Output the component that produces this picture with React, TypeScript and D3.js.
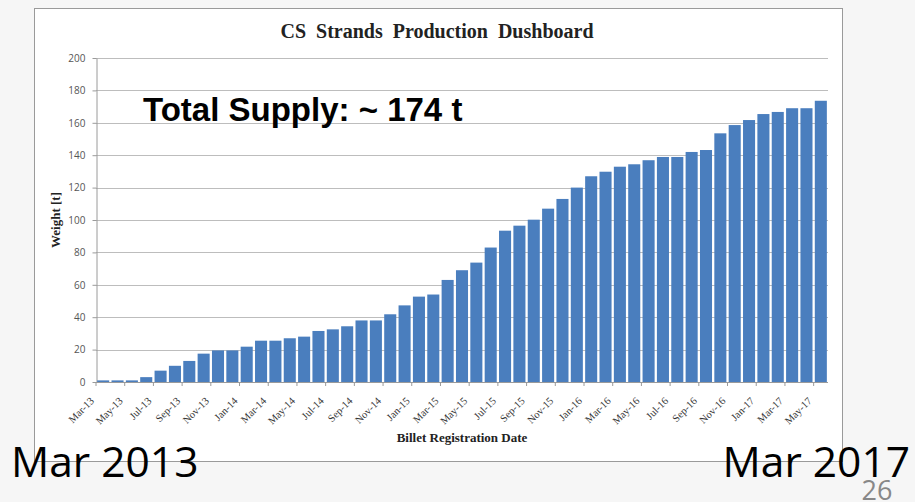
import React, { useEffect, useRef } from "react";
import * as d3 from "d3";

// monthly cumulative weight [t], Mar-13 .. May-17
const months = [
  "Mar-13", "Apr-13", "May-13", "Jun-13", "Jul-13", "Aug-13", "Sep-13", "Oct-13", "Nov-13", "Dec-13",
  "Jan-14", "Feb-14", "Mar-14", "Apr-14", "May-14", "Jun-14", "Jul-14", "Aug-14", "Sep-14", "Oct-14", "Nov-14", "Dec-14",
  "Jan-15", "Feb-15", "Mar-15", "Apr-15", "May-15", "Jun-15", "Jul-15", "Aug-15", "Sep-15", "Oct-15", "Nov-15", "Dec-15",
  "Jan-16", "Feb-16", "Mar-16", "Apr-16", "May-16", "Jun-16", "Jul-16", "Aug-16", "Sep-16", "Oct-16", "Nov-16", "Dec-16",
  "Jan-17", "Feb-17", "Mar-17", "Apr-17", "May-17",
];
const weights = [
  1, 1, 1, 3, 7, 10, 13, 17.5, 19.5, 19.5,
  21.8, 25.5, 25.5, 27, 28, 31.5, 32.5, 34.4, 38, 38, 41.8, 47.3,
  52.7, 54, 63, 69, 73.7, 83, 93.4, 96.5, 100.2, 107, 113, 120,
  127, 129.8, 132.9, 134.4, 136.9, 138.9, 138.9, 142, 143.2, 153.5, 158.6, 161.7,
  165.4, 166.7, 169, 169, 173.6,
];
const tickLabels = months.filter((_, i) => i % 2 === 0);
const yTicks = [0, 20, 40, 60, 80, 100, 120, 140, 160, 180, 200];

const W = 915, H = 502;
const left = 96, right = 828, top = 58, bottom = 382;

export default function App() {
  const ref = useRef<SVGSVGElement>(null);

  useEffect(() => {
    const svg = d3.select(ref.current);
    svg.selectAll("*").remove();

    const x = d3.scaleBand().domain(months).range([left, right]).paddingInner(0.16).paddingOuter(0.08);
    const y = d3.scaleLinear().domain([0, 200]).range([bottom, top]);
    const step = x.step();

    // slide background + chart box
    svg.append("rect").attr("width", W).attr("height", H).attr("fill", "#f6f6f6");
    svg.append("rect").attr("x", 34.5).attr("y", 8.5).attr("width", 808).attr("height", 453)
      .attr("fill", "#fff").attr("stroke", "#9a9a9a");

    // gridlines
    svg.append("g").selectAll("line").data(yTicks.slice(1)).join("line")
      .attr("x1", left).attr("x2", right)
      .attr("y1", d => Math.round(y(d)) + 0.5).attr("y2", d => Math.round(y(d)) + 0.5)
      .attr("stroke", "#bdbdbd");

    // y axis
    const yAxis = svg.append("g").attr("transform", `translate(${left + 0.5},0)`)
      .call(d3.axisLeft(y).tickValues(yTicks).tickSize(4).tickPadding(7).tickSizeOuter(0));
    yAxis.select(".domain").attr("stroke", "#9a9a9a");
    yAxis.selectAll(".tick line").attr("stroke", "#9a9a9a");
    yAxis.selectAll(".tick text").attr("fill", "#555").style("font-family", "'Open Sans', sans-serif").style("font-size", "10px");

    // bars
    svg.append("g").selectAll("rect").data(weights).join("rect")
      .attr("x", (_, i) => x(months[i])!)
      .attr("y", d => y(d))
      .attr("width", x.bandwidth())
      .attr("height", d => bottom - y(d))
      .attr("fill", "#4a7ebe");

    // x axis
    svg.append("line").attr("x1", left).attr("x2", right).attr("y1", bottom + 0.5).attr("y2", bottom + 0.5)
      .attr("stroke", "#9a9a9a");
    svg.append("g").selectAll("line").data(tickLabels).join("line")
      .attr("x1", d => x(d)! - (step - x.bandwidth()) / 2).attr("x2", d => x(d)! - (step - x.bandwidth()) / 2)
      .attr("y1", bottom).attr("y2", bottom + 4).attr("stroke", "#9a9a9a");
    svg.append("g").selectAll("text").data(tickLabels).join("text")
      .attr("transform", d => `translate(${x(d)! + x.bandwidth() / 2 - 11},${bottom + 17}) rotate(-45)`)
      .attr("text-anchor", "end").attr("dy", "0.35em")
      .attr("fill", "#333").style("font-family", "'Liberation Serif', serif").style("font-size", "10.5px")
      .text(d => d);

    // titles
    svg.append("text").attr("x", 437).attr("y", 38).attr("text-anchor", "middle")
      .style("font-family", "'Liberation Serif', serif").style("font-weight", "bold").style("font-size", "20px")
      .style("word-spacing", "5px").attr("fill", "#222").text("CS Strands Production Dushboard");
    svg.append("text").attr("x", 462).attr("y", 442).attr("text-anchor", "middle")
      .style("font-family", "'Liberation Serif', serif").style("font-weight", "bold").style("font-size", "13px")
      .attr("fill", "#222").text("Billet Registration Date");
    svg.append("text").attr("transform", "translate(60,220) rotate(-90)").attr("text-anchor", "middle")
      .style("font-family", "'Liberation Serif', serif").style("font-weight", "bold").style("font-size", "13px")
      .attr("fill", "#222").text("Weight [t]");

    // annotation
    svg.append("text").attr("x", 143).attr("y", 121)
      .style("font-family", "'Liberation Sans', sans-serif").style("font-weight", "bold").style("font-size", "33px")
      .attr("fill", "#000").text("Total Supply: ~ 174 t");

    // slide text
    svg.append("text").attr("x", 11).attr("y", 477)
      .style("font-family", "'Open Sans', sans-serif").style("font-size", "42.5px").attr("fill", "#000")
      .text("Mar 2013");
    svg.append("text").attr("x", 910).attr("y", 477).attr("text-anchor", "end")
      .style("font-family", "'Open Sans', sans-serif").style("font-size", "42.5px").attr("fill", "#000")
      .text("Mar 2017");
    svg.append("text").attr("x", 877).attr("y", 500).attr("text-anchor", "middle")
      .style("font-family", "'Open Sans', sans-serif").style("font-size", "27px").attr("fill", "#888")
      .text("26");
  }, []);

  return (
    <svg ref={ref} width={W} height={H} style={{ position: "absolute", left: 0, top: 0, display: "block" }} />
  );
}
